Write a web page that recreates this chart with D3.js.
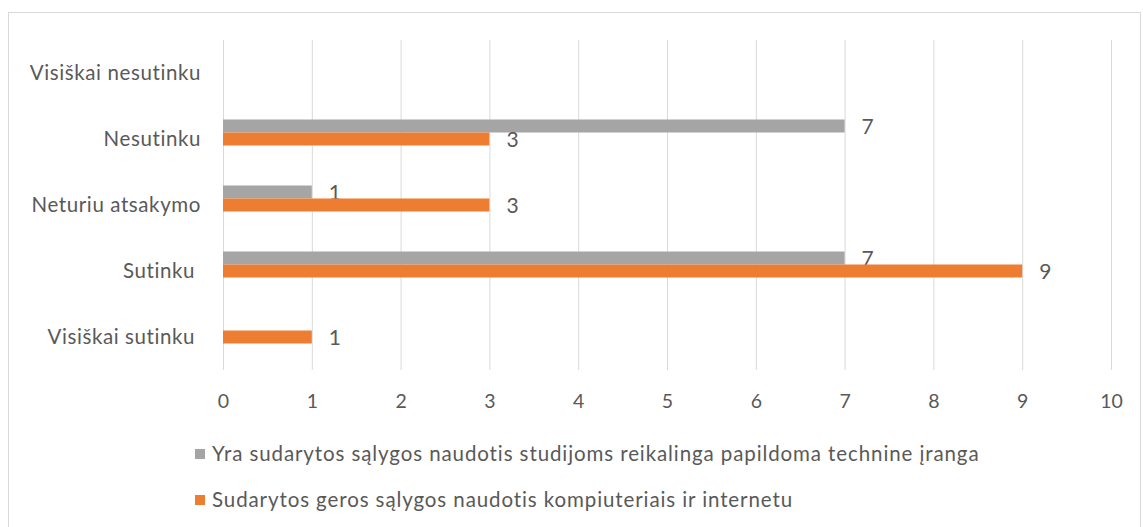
<!DOCTYPE html>
<html>
<head>
<meta charset="utf-8">
<script src="https://cdn.jsdelivr.net/npm/d3@7"></script>
<style>
  body { margin: 0; background: #fff; }
  text { font-family: Lato, "Open Sans", sans-serif; fill: #595959; white-space: pre; }
</style>
</head>
<body>
<div id="chart"></div>
<script>
// answer categories, top to bottom
const categories = ['Visiškai nesutinku', 'Nesutinku', 'Neturiu atsakymo', 'Sutinku ', 'Visiškai sutinku ']
const seriesNames = [
  'Yra sudarytos sąlygos naudotis studijoms reikalinga papildoma technine įranga',
  'Sudarytos geros sąlygos naudotis kompiuteriais ir internetu'
]
const grayValues = [null, 7, 1, 7, null]
const orangeValues = [null, 3, 3, 9, 1]
const colors = ['#a5a5a5', '#ed7d31']
const xTicks = [0, 1, 2, 3, 4, 5, 6, 7, 8, 9, 10]

const W = 1143, H = 527
const mLeft = 223, mRight = 1111, mTop = 40, mBottom = 370

const svg = d3.select('#chart').append('svg')
  .attr('width', W).attr('height', H)

// chart border
svg.append('rect')
  .attr('x', 8.5).attr('y', 12.5)
  .attr('width', 1132).attr('height', 530)
  .attr('fill', 'none').attr('stroke', '#d9d9d9')

const x = d3.scaleLinear().domain([0, 10]).range([mLeft, mRight])
const y = d3.scaleBand().domain(categories).range([mTop, mBottom])
// excel leaves room for a third (empty) series slot
const inner = d3.scaleBand().domain([0, 1, 2]).range([0, 39])

// grid
svg.append('g')
  .attr('transform', `translate(0,${mTop})`)
  .call(d3.axisTop(x).tickValues(xTicks).tickSize(-(mBottom - mTop)).tickFormat(''))
  .call(g => g.select('.domain').remove())
  .call(g => g.selectAll('line').attr('stroke', '#d9d9d9'))

// x tick labels
svg.append('g')
  .attr('transform', `translate(0,${mBottom})`)
  .call(d3.axisBottom(x).tickValues(xTicks).tickSize(0).tickPadding(24))
  .call(g => g.select('.domain').remove())
  .call(g => g.selectAll('text').attr('font-size', 19.5).style('font-family', 'Lato, sans-serif').attr('fill', '#595959'))

// category labels
svg.append('g')
  .attr('transform', `translate(${mLeft},0)`)
  .call(d3.axisLeft(y).tickSize(0).tickPadding(22))
  .call(g => g.select('.domain').remove())
  .call(g => g.selectAll('text').attr('font-size', 20.5).attr('letter-spacing', 0.6)
    .style('font-family', 'Lato, sans-serif').attr('fill', '#595959'))

const series = [grayValues, orangeValues]
series.forEach((vals, si) => {
  const rows = categories.map((c, i) => ({ c, v: vals[i] })).filter(d => d.v != null)
  const off = y.bandwidth() / 2 - 19.5
  svg.append('g').selectAll('rect')
    .data(rows).enter().append('rect')
    .attr('x', x(0))
    .attr('y', d => y(d.c) + off + inner(si))
    .attr('width', d => x(d.v) - x(0))
    .attr('height', inner.bandwidth())
    .attr('fill', colors[si])
  svg.append('g').selectAll('text')
    .data(rows).enter().append('text')
    .attr('x', d => x(d.v) + 17)
    .attr('y', d => y(d.c) + off + inner(si) + inner.bandwidth() / 2 + 1)
    .attr('dy', '0.35em')
    .attr('font-size', 21)
    .text(d => d.v)
})

// legend
const legend = svg.append('g').selectAll('g')
  .data(seriesNames).enter().append('g')
  .attr('transform', (d, i) => `translate(195,${454 + i * 46})`)
legend.append('rect')
  .attr('x', 0).attr('y', -5).attr('width', 10).attr('height', 10)
  .attr('fill', (d, i) => colors[i])
legend.append('text')
  .attr('x', 17).attr('dy', '0.35em')
  .attr('font-size', 20.5).attr('letter-spacing', 0.9)
  .text(d => d)
</script>
</body>
</html>
